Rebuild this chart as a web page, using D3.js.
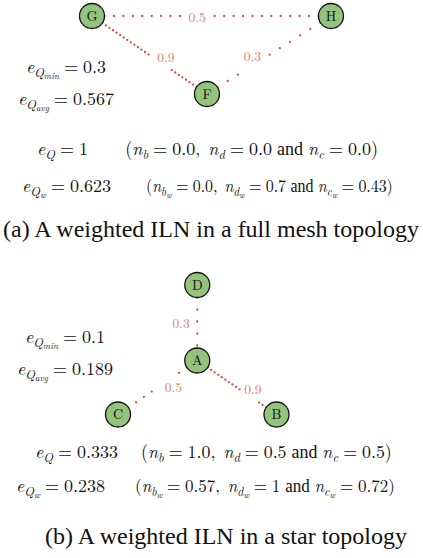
<!DOCTYPE html>
<html>
<head>
<meta charset="utf-8">
<script src="https://cdn.jsdelivr.net/npm/d3@7"></script>
<style>
  html, body { margin: 0; padding: 0; background: #fff; }
  svg { display: block; }
</style>
</head>
<body>
<svg id="fig" width="423" height="558"></svg>
<script>
// ---- data -------------------------------------------------------------
const meshNodes = ["G", "H", "F"];
const meshEdges = [["G", "H", 0.5], ["G", "F", 0.9], ["F", "H", 0.3]];
const starNodes = ["D", "A", "C", "B"];
const starEdges = [["D", "A", 0.3], ["A", "B", 0.9], ["A", "C", 0.5]];

const meshStats = { min: "0.3", avg: "0.567", eQ: "1", eQw: "0.623",
  nb: "0.0", nd: "0.0", nc: "0.0", nbw: "0.0", ndw: "0.7", ncw: "0.43" };
const starStats = { min: "0.1", avg: "0.189", eQ: "0.333", eQw: "0.238",
  nb: "1.0", nd: "0.5", nc: "0.5", nbw: "0.57", ndw: "1", ncw: "0.72" };

const captions = ["(a) A weighted ILN in a full mesh topology",
                  "(b) A weighted ILN in a star topology"];

// ---- layout -----------------------------------------------------------
const meshGrid = { G: [0, 0], H: [1, 0], F: [0.481, 1] };
const starGrid = { D: [0.5, 0], A: [0.5, 0.583], C: [0, 1], B: [1, 1] };
const meshX = d3.scaleLinear().domain([0, 1]).range([92, 331]);
const meshY = d3.scaleLinear().domain([0, 1]).range([16, 94]);
const starX = d3.scaleLinear().domain([0, 1]).range([118, 276.5]);
const starY = d3.scaleLinear().domain([0, 1]).range([285, 414.5]);

// where each weight label interrupts its edge: [gap centre t, gap length, label dx, dy]
const meshLabelGaps = [[0.44, 30, 0, 0], [0.59, 24, 6, -6], [0.39, 26, -3, -8]];
const starLabelGaps = [[0.5, 0, -16, 0], [0.65, 22, 4, -7], [0.37, 22, 5.5, 6]];

const NODE_R = 12.5;
const dotSpacing = d3.scaleLinear().domain([0.3, 0.9]).range([12, 4.3]);

const CM = "'Latin Modern Roman', 'CMU Serif', 'Liberation Serif', serif";
const TIMES = "'Liberation Serif', 'Times New Roman', serif";
const svg = d3.select("#fig");

function drawGraph(nodes, edges, grid, sx, sy, gaps) {
  const g = svg.append("g");
  const pos = {};
  nodes.forEach(n => { pos[n] = [sx(grid[n][0]), sy(grid[n][1])]; });

  edges.forEach(([s, t, w], i) => {
    const [x0, y0] = pos[s], [x1, y1] = pos[t];
    const L = Math.hypot(x1 - x0, y1 - y0);
    const ux = (x1 - x0) / L, uy = (y1 - y0) / L;
    const [gt, glen, ldx, ldy] = gaps[i];
    const step = dotSpacing(w);
    const gc = gt * L;
    const pts = [];
    const a0 = NODE_R, a1 = gc - glen / 2, b0 = gc + glen / 2, b1 = L - NODE_R;
    if (glen === 0) {
      const n = Math.floor((b1 - a0) / step + 1e-6);
      for (let k = 0; k <= n; k++) pts.push(a0 + k * step);
    } else {
      for (let d = a0; d <= a1 + 1e-6; d += step) pts.push(d);
      for (let d = b1; d >= b0 - 1e-6; d -= step) pts.push(d);
    }
    g.append("g").selectAll("circle").data(pts).join("circle")
      .attr("cx", d => x0 + ux * d)
      .attr("cy", d => y0 + uy * d)
      .attr("r", 1.15)
      .attr("fill", "#e2473b");

    g.append("text")
      .attr("x", x0 + ux * gc + ldx)
      .attr("y", y0 + uy * gc + ldy)
      .attr("text-anchor", "middle")
      .attr("dominant-baseline", "central")
      .attr("font-family", CM)
      .attr("font-size", 13.5)
      .attr("fill", "#e5786d")
      .text(d3.format(".1f")(w));
  });

  const ng = g.append("g").selectAll("g").data(nodes).join("g")
    .attr("transform", d => `translate(${pos[d][0]},${pos[d][1]})`);
  ng.append("circle").attr("r", NODE_R)
    .attr("fill", "#93c47d").attr("stroke", "#111").attr("stroke-width", 1.3);
  ng.append("text").attr("text-anchor", "middle").attr("dy", "0.35em")
    .attr("font-family", CM).attr("font-size", 14).attr("fill", "#111")
    .text(d => d);
}

// math-like text; segment = [text, italic, level, space-before (em), family]
// level 1 / 2 are script / scriptscript (subscripts)
const MS = 18;
const SCALE = [1, 0.7, 0.5];
const DROP = [0, 0.2, 0.32];
function mathText(parent, x, y, segs, anchor) {
  const t = parent.append("text").attr("x", x).attr("y", y)
    .attr("text-anchor", anchor || "start")
    .attr("font-family", CM).attr("fill", "#111");
  let cur = 0;
  segs.forEach(([s, it, lv, sp, fam]) => {
    lv = lv || 0;
    const drop = DROP[lv] * MS;
    t.append("tspan")
      .attr("dx", (sp || 0) * MS)
      .attr("dy", drop - cur)
      .attr("font-size", MS * SCALE[lv])
      .attr("font-style", it ? "italic" : "normal")
      .attr("font-family", fam || null)
      .text(s);
    cur = drop;
  });
  return t;
}
// set a formula between two x positions (condensing it when it runs long)
function fittedMath(x0, x1, y, segs) {
  const g = svg.append("g");
  const t = mathText(g, 0, 0, segs);
  const bb = t.node().getBBox();
  const k = Math.min(1, (x1 - x0) / bb.width);
  g.attr("transform", `translate(${x1 - (bb.x + bb.width) * k},${y}) scale(${k},1)`);
}
function eqPart(subsub, val) {
  const s = [["e", 1, 0], ["Q", 1, 1]];
  if (subsub) s.push([subsub, 1, 2]);
  s.push(["=", 0, 0, 0.278], [val, 0, 0, 0.278]);
  return s;
}
function parenPart(st, weighted) {
  const n = (letter, v, lead) => {
    const s = [["n", 1, 0, lead], [letter, 1, 1]];
    if (weighted) s.push(["w", 1, 2]);
    s.push(["=", 0, 0, 0.278], [v, 0, 0, 0.278]);
    return s;
  };
  const vb = weighted ? st.nbw : st.nb, vd = weighted ? st.ndw : st.nd, vc = weighted ? st.ncw : st.nc;
  return [["(", 0, 0]]
    .concat(n("b", vb, 0), [[",", 0, 0]])
    .concat(n("d", vd, 0.45), [["and", 0, 0, 0.28, TIMES]])
    .concat(n("c", vc, 0.28), [[")", 0, 0]]);
}

// rows: [e-part left x, bracket left x, bracket right x, baseline]
function drawStats(st, cx, yMin, yAvg, rows) {
  mathText(svg, cx, yMin, eqPart("min", st.min), "middle");
  mathText(svg, cx, yAvg, eqPart("avg", st.avg), "middle");
  rows.forEach((r, i) => {
    mathText(svg, r[0], r[3], i === 0 ? eqPart(null, st.eQ) : eqPart("w", st.eQw));
    fittedMath(r[1], r[2], r[3], parenPart(st, i === 1));
  });
}

drawGraph(meshNodes, meshEdges, meshGrid, meshX, meshY, meshLabelGaps);
drawGraph(starNodes, starEdges, starGrid, starX, starY, starLabelGaps);

drawStats(meshStats, 66, 73, 105, [[37, 125, 378, 155], [22, 146, 393, 192]]);
drawStats(starStats, 65, 343, 375, [[35, 141, 392, 458], [16, 135, 395, 492]]);

svg.selectAll("text.cap").data(captions).join("text")
  .attr("class", "cap")
  .attr("x", (d, i) => [211, 226][i])
  .attr("y", (d, i) => [237, 544][i])
  .attr("text-anchor", "middle")
  .attr("font-family", TIMES)
  .attr("font-size", 24)
  .attr("fill", "#111")
  .text(d => d);
</script>
</body>
</html>
